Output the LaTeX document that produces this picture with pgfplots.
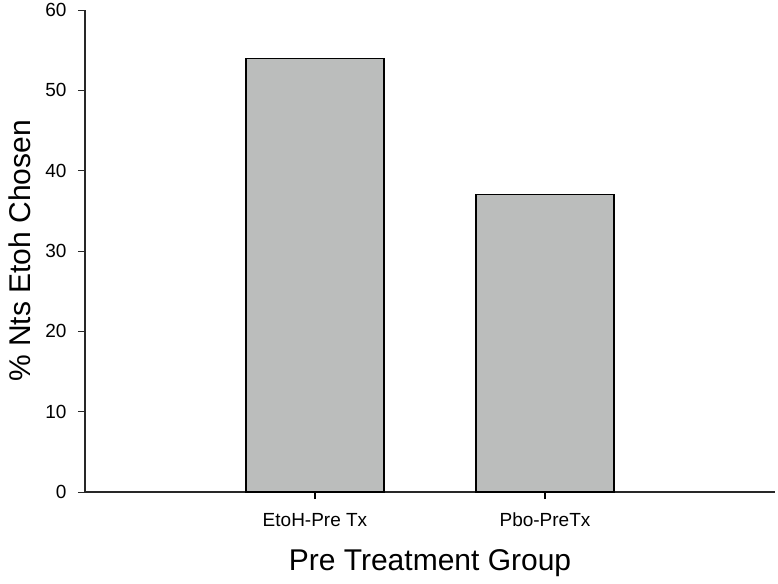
\documentclass[border=0pt]{standalone}
\usepackage{fontspec}
\setmainfont{Liberation Sans}
\usepackage{pgfplots}
\pgfplotsset{compat=1.18}
\definecolor{barfill}{RGB}{187,189,188}
\definecolor{axline}{RGB}{40,40,40}

\begin{document}
\begin{tikzpicture}
\begin{axis}[
    name=main,
    scale only axis,
    width=690pt, height=482pt,
    xmin=0, xmax=3, ymin=0, ymax=60,
    axis x line*=bottom, axis y line*=left,
    axis line style={axline, line width=1.3pt},
    xtick={1,2},
    xticklabels={EtoH-Pre Tx, Pbo-PreTx},
    ytick={0,10,20,30,40,50,60},
    tick align=outside,
    major tick length=7pt,
    xtick style={black, line width=1.2pt},
    ytick style={axline, line width=1pt},
    x tick label style={font=\fontsize{19}{22}\selectfont, anchor=base, yshift=-27pt},
    y tick label style={font=\fontsize{19}{22}\selectfont, xshift=-8pt},
    /pgf/number format/assume math mode=true,
    xlabel={Pre Treatment Group},
    ylabel={\% Nts Etoh Chosen},
    label style={font=\fontsize{30}{34}\selectfont},
    xlabel style={at={(axis description cs:0.5,-0.147)}, anchor=center},
    ylabel style={at={(axis description cs:-0.094,0.5)}, anchor=center},
    ybar, bar width=138pt,
    clip=false,
]
\addplot[fill=barfill, draw=black, line width=1.2pt] coordinates {(1,54) (2,37)};
\end{axis}
\path (main.south west) ++(-85pt,-91pt) rectangle ++(778pt,583pt);
\end{tikzpicture}
\end{document}
